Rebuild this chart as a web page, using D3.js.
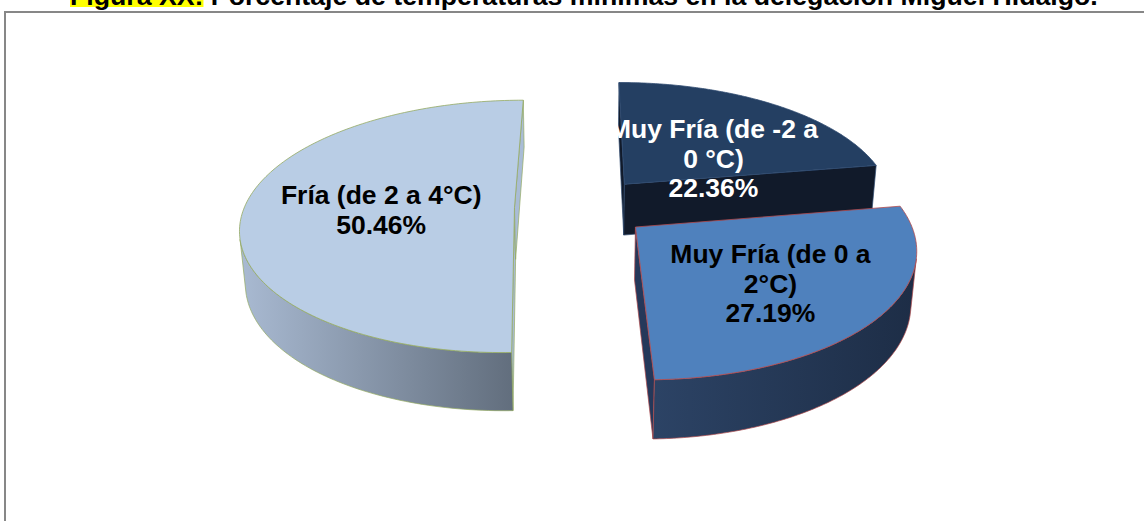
<!DOCTYPE html>
<html>
<head>
<meta charset="utf-8">
<script src="https://cdn.jsdelivr.net/npm/d3@7"></script>
<style>
  body { margin: 0; background: #fff; }
  svg { display: block; }
  text { font-family: "Liberation Sans", Arial, sans-serif; font-weight: bold; }
</style>
</head>
<body>
<svg id="chart" width="1144" height="521"></svg>
<script>
const titleText = 'Figura XX: Porcentaje de temperaturas mínimas en la delegación Miguel Hidalgo.';
const titleTag = 'Figura XX:';

// slices in Excel order, clockwise from 12 o'clock
const categories = ['Muy Fría (de -2 a 0 °C)', 'Muy Fría (de 0 a 2°C)', 'Fría (de 2 a 4°C)'];
const values = [22.36, 27.19, 50.46];
const labelLines = [['Muy Fría (de -2 a', '0 °C)'], ['Muy Fría (de 0 a', '2°C)'], ['Fría (de 2 a 4°C)']];

const topColors = ['#243f62', '#4f81bd', '#b9cde5'];
const sideColors = ['#111a2a', '#25385a', '#a9bcd6'];
const wallFrom = ['#2d4468', '#2c4365', '#a9bad2'];
const wallTo = ['#1a2a40', '#1d2d46', '#5f6b7a'];
const edgeColors = ['#2f4a70', '#b24a4c', '#94aa62'];
const labelColors = ['#ffffff', '#000000', '#000000'];
const labelShift = [[11, 16], [20, 13], [2, 1]];

const width = 1144;
const height = 521;
const svg = d3.select('#chart');

// 3D view: pie of radius 1 seen from above with perspective
const cx = 582, cy = 207, S = 270;
const phi = 27.15 * Math.PI / 180;
const k = 0.1686;
const depth = 0.22;
const explode = 0.25;
const labelR = 0.5;
const sinP = Math.sin(phi), cosP = Math.cos(phi);
const camZ = cosP / k;

function project([X, Z, Y]) {
  const d = 1 - k * (Y * sinP + Z * cosP);
  return [cx + S * X / d, cy - S * (Y * cosP - Z * sinP) / d];
}
const poly = pts => d3.line()(pts.map(project)) + 'Z';

// frame and title
svg.append('rect').attr('width', width).attr('height', height).attr('fill', '#fff');
svg.append('path')
  .attr('d', `M5,${height + 5}V12H${width + 5}`)
  .attr('fill', 'none')
  .attr('stroke', '#878787')
  .attr('stroke-width', 2);

const titleG = svg.append('g');
const hl = titleG.append('rect').attr('fill', '#ffff00');
const title = titleG.append('text').attr('x', 70).attr('y', 5).attr('font-size', 20).text(titleText);
const fs = 20 * 1028 / title.node().getComputedTextLength();
title.attr('font-size', fs);
const probe = titleG.append('text').attr('font-size', fs).text(titleTag);
const tagW = probe.node().getComputedTextLength();
probe.remove();
hl.attr('x', 70).attr('y', -20).attr('width', tagW).attr('height', 27);

const data = categories.map((c, i) => ({ name: c, value: values[i], i }));
const pie = d3.pie().sort(null).value(d => d.value);
const fmt = d3.format('.2f');

const slices = pie(data).map(a => {
  const mid = (a.startAngle + a.endAngle) / 2;
  const ox = explode * Math.sin(mid);
  const oz = -explode * Math.cos(mid);
  return { ...a, mid, ox, oz, dist: Math.hypot(ox, camZ - oz) };
});

const defs = svg.append('defs');
const rim = (s, t, y) => [s.ox + Math.sin(t), s.oz - Math.cos(t), y];

// far slices first
slices.slice().sort((a, b) => b.dist - a.dist).forEach(s => {
  const i = s.data.i;
  const g = svg.append('g');
  const a0 = s.startAngle, a1 = s.endAngle;
  const n = 160;
  const ts = d3.range(n + 1).map(j => a0 + (a1 - a0) * j / n);

  const grad = defs.append('linearGradient')
    .attr('id', 'wall' + i)
    .attr('gradientUnits', 'userSpaceOnUse');
  const xs = ts.map(t => project(rim(s, t, 0))[0]);
  grad.attr('x1', d3.min(xs)).attr('x2', d3.max(xs)).attr('y1', 0).attr('y2', 0);
  grad.append('stop').attr('offset', 0).attr('stop-color', wallFrom[i]);
  grad.append('stop').attr('offset', 1).attr('stop-color', wallTo[i]);

  // radial cut faces
  [[a0, -1], [a1, 1]].forEach(([t, sg]) => {
    const nx = sg * Math.cos(t), nz = sg * Math.sin(t);
    if (nx * (0 - s.ox) + nz * (camZ - s.oz) <= 0) return;
    g.append('path')
      .attr('d', poly([[s.ox, s.oz, 0], rim(s, t, 0), rim(s, t, -depth), [s.ox, s.oz, -depth]]))
      .attr('fill', sideColors[i])
      .attr('stroke', edgeColors[i])
      .attr('stroke-width', 0.7)
      .attr('stroke-linejoin', 'round');
  });

  // curved outer wall, visible runs only
  const vis = t => -s.ox * Math.sin(t) - 1 - Math.cos(t) * (camZ - s.oz) > 0;
  let run = [];
  const runs = [];
  ts.forEach(t => {
    if (vis(t)) run.push(t);
    else if (run.length) { runs.push(run); run = []; }
  });
  if (run.length) runs.push(run);
  runs.forEach(r => {
    const pts = r.map(t => rim(s, t, 0)).concat(r.slice().reverse().map(t => rim(s, t, -depth)));
    g.append('path')
      .attr('d', poly(pts))
      .attr('fill', `url(#wall${i})`)
      .attr('stroke', edgeColors[i])
      .attr('stroke-width', 0.7)
      .attr('stroke-linejoin', 'round');
  });

  // top face
  g.append('path')
    .attr('d', poly([[s.ox, s.oz, 0]].concat(ts.map(t => rim(s, t, 0)))))
    .attr('fill', topColors[i])
    .attr('stroke', edgeColors[i])
    .attr('stroke-width', 0.8)
    .attr('stroke-linejoin', 'round');
});

// labels
const lfs = 26.5, lh = 29.5;
slices.forEach(s => {
  const i = s.data.i;
  const [lx, ly] = project([s.ox + labelR * Math.sin(s.mid), s.oz - labelR * Math.cos(s.mid), 0]);
  const lines = labelLines[i].concat(fmt(s.data.value) + '%');
  const x = lx + labelShift[i][0];
  const y0 = ly + labelShift[i][1] - (lines.length - 1) / 2 * lh + lfs * 0.36;
  const t = svg.append('text')
    .attr('text-anchor', 'middle')
    .attr('font-size', lfs)
    .attr('fill', labelColors[i]);
  lines.forEach((l, j) => t.append('tspan').attr('x', x).attr('y', y0 + j * lh).text(l));
});
</script>
</body>
</html>
